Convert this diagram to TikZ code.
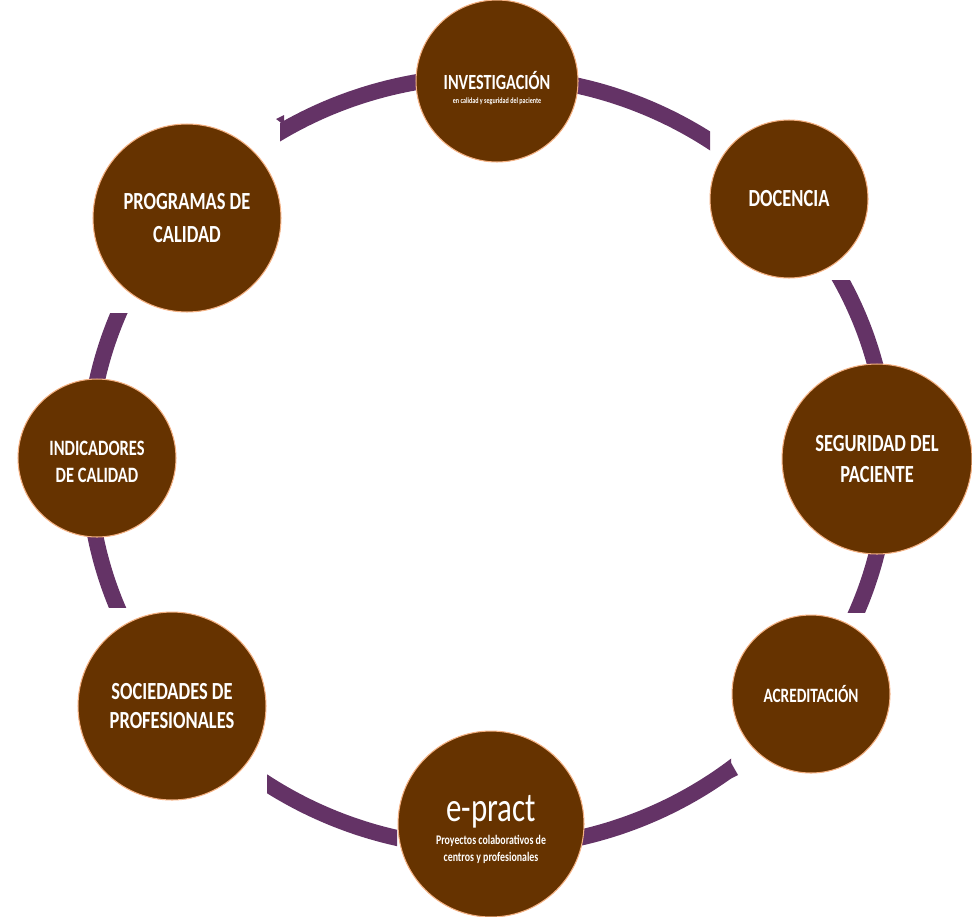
\documentclass[tikz,border=0pt]{standalone}
\usepackage{fontspec}
\setmainfont{Carlito}[FakeStretch=0.75]
\usetikzlibrary{positioning}
\definecolor{hubbrown}{HTML}{663300}
\definecolor{hubedge}{HTML}{F4B183}
\definecolor{ringplum}{HTML}{643366}
\newcommand{\fs}[2]{\fontsize{#1}{#2}\selectfont}

\begin{document}
\begin{tikzpicture}[x=0.02cm, y=-0.02cm,
  hub/.style={circle, fill=hubbrown, draw=hubedge, line width=0.6pt, text=white, align=center, inner sep=0pt},
  bighub/.style={hub, minimum size=3.76cm},
  smallhub/.style={hub, minimum size=3.16cm},
  hubtext/.style 2 args={font=\bfseries\fs{#1}{#2}},
  ringseg/.style={draw=ringplum, line width=9.1pt}]
  \useasboundingbox (0,0) rectangle (972,916);
  \coordinate (ring) at (488,462);
  % ring pieces, cut square at the free end
  \foreach \xa/\ya/\xb/\yb in {280/0/430/200, 560/0/710/200, 700/280/972/400, 700/520/972/612,
                               570/700/731/916, 267/700/397/916, 0/520/300/607, 0/313/300/400}{
    \begin{scope}
      \clip (\xa,\ya) rectangle (\xb,\yb);
      \draw[ringseg] (ring) ellipse [x radius=400, y radius=386];
    \end{scope}
  }
  \fill[ringplum] (276,119) -- (284,115) -- (284,125) -- cycle;
  \fill[ringplum] (738,775) -- (730,761) -- (730,779) -- cycle;
  % circles
  \node[smallhub, minimum size=3.24cm, label={[text=white, align=center, hubtext={12.3}{8}, yshift=-4pt]center:INVESTIGACIÓN\\\fs{4.6}{5}en calidad y seguridad del paciente}] (inv) at (497,81) {};
  \node[smallhub, hubtext={14}{17}] (doc) at (789,199) {DOCENCIA};
  \node[bighub, minimum size=3.8cm, hubtext={14}{17.5}] (seg) at (877,459) {SEGURIDAD DEL\\PACIENTE};
  \node[smallhub, hubtext={11.6}{14}] (acr) at (811,694) {ACREDITACIÓN};
  \node[bighub, minimum size=3.72cm, label={[text=white, align=center, hubtext={7.5}{9.6}, yshift=-3pt]center:{\mdseries\fs{23.5}{26}e-pract}\\[3.6pt]Proyectos colaborativos de\\centros y profesionales}] (epr) at (491,824) {};
  \node[bighub, hubtext={14}{17}] (soc) at (172,706) {SOCIEDADES DE\\PROFESIONALES};
  \node[smallhub, hubtext={12.5}{15.3}, label={[text=white, align=center, hubtext={12.5}{15.3}, yshift=-2pt]center:INDICADORES\\DE CALIDAD}] (ind) at (97,458) {};
  \node[bighub, hubtext={14}{18.7}] (pro) at (187,218) {PROGRAMAS DE\\CALIDAD};
\end{tikzpicture}
\end{document}
